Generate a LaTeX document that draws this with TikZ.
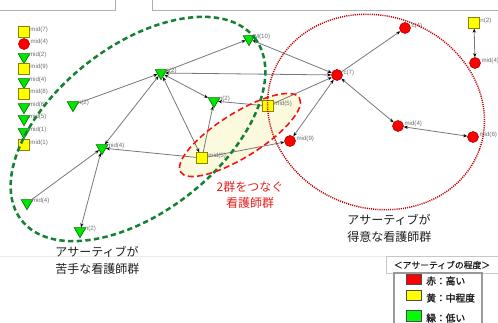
\documentclass[tikz,border=0pt]{standalone}
\usepackage{fontspec}
\newfontfamily\jpfont{Noto Sans CJK JP}
\newfontfamily\jpbold[FakeBold=1.6]{Noto Sans CJK JP}
\newfontfamily\jpsemi[FakeBold=0.8]{Noto Sans CJK JP}
\newfontfamily\lblfont{Liberation Sans}
\usetikzlibrary{shapes.geometric,arrows.meta}
\definecolor{lblgrey}{RGB}{110,110,110}
\definecolor{edgegrey}{RGB}{120,120,120}
\definecolor{sqfill}{RGB}{255,255,0}
\definecolor{sqdraw}{RGB}{140,130,0}
\definecolor{cfill}{RGB}{255,0,0}
\definecolor{cdraw}{RGB}{180,0,0}
\definecolor{tfill}{RGB}{0,230,0}
\definecolor{tdraw}{RGB}{0,120,0}
\definecolor{grdash}{RGB}{20,130,50}
\definecolor{rddot}{RGB}{190,0,0}
\definecolor{rddash}{RGB}{245,20,20}
\definecolor{cream}{RGB}{252,250,222}
\definecolor{frameg}{RGB}{175,175,175}
\definecolor{txtred}{RGB}{230,30,30}
\definecolor{txtblk}{RGB}{30,30,30}
\begin{document}
\begin{tikzpicture}[x=0.75pt,y=-0.75pt,
  lab/.style={font=\lblfont\fontsize{4.6}{4.6}\selectfont, text=lblgrey, inner sep=0.4pt, yshift=1.8pt},
  sq/.style={rectangle, draw=sqdraw, fill=sqfill, minimum size=8pt, inner sep=0pt, line width=0.5pt},
  circ/.style={circle, draw=cdraw, fill=cfill, minimum size=8.2pt, inner sep=0pt, line width=0.5pt},
  tri/.style={regular polygon, regular polygon sides=3, shape border rotate=180, draw=tdraw, fill=tfill, minimum size=10pt, inner sep=0pt, line width=0.5pt},
  conn/.style={draw=edgegrey, line width=0.6pt},
  ar/.style={conn, -{Stealth[length=3pt,width=2.4pt,color=black]}},
  bi/.style={conn, {Stealth[length=3pt,width=2.4pt,color=black]}-{Stealth[length=3pt,width=2.4pt,color=black]}},
  bigtxt/.style={font=\jpfont\fontsize{9}{12.5}\selectfont, align=left, inner sep=0pt},
  lgsq/.style={draw=black!70, minimum width=11pt, minimum height=7.5pt, inner sep=0pt, line width=0.4pt},
  lgtxt/.style={font=\jpbold\fontsize{7.3}{8}\selectfont, text=txtblk, anchor=west, inner sep=0pt}
]
\useasboundingbox (0,0) rectangle (498,323);
\fill[white] (0,0) rectangle (498,323);

% frame lines
\draw[frameg, line width=0.5pt] (0,10) -- (115,10) -- (115,0);
\draw[frameg, line width=0.5pt] (152,0) -- (152,10) -- (498,10);
\draw[black!8, line width=0.5pt] (0,256) -- (386,256);

% cream fill of bridge group
\fill[cream, rotate around={32:(240,135)}] (240,135) ellipse [x radius=70, y radius=22];

% nodes
\node[sq]   (L1)  at (24,32)  [label={[lab]0:mid(7)}] {};
\node[circ] (L2)  at (24,44)  [label={[lab]0:mid(4)}] {};
\node[tri]  (L3)  at (24,57)  [label={[lab]0:mid(2)}] {};
\node[sq]   (L4)  at (24,69)  [label={[lab]0:mid(9)}] {};
\node[tri]  (L5)  at (24,82)  [label={[lab]0:mid(4)}] {};
\node[sq]   (L6)  at (24,94)  [label={[lab]0:mid(8)}] {};
\node[tri]  (L7)  at (24,107) [label={[lab]0:mid(6)}] {};
\node[tri]  (L8)  at (24,119) [label={[lab]0:mid(5)}] {};
\node[tri]  (L9)  at (24,132) [label={[lab]0:mid(1)}] {};
\node[sq]   (L10) at (24,145) [label={[lab]0:mid(1)}] {};

\node[tri]  (na)  at (73,105)  [label={[lab]0:n(2)}] {};
\node[tri]  (c2)  at (161,73)  [label={[lab]0:c(2)}] {};
\node[tri]  (m10) at (249,39)  [label={[lab]0:M(10)}] {};
\node[tri]  (nb)  at (214,101) [label={[lab]0:n(2)}] {};
\node[sq]   (m5a) at (268,106) [label={[lab]0:mid(5)}] {};
\node[tri]  (m4b) at (102,148) [label={[lab]0:mid(4)}] {};
\node[sq]   (m5b) at (202,158) [label={[lab]0:mid(5)}] {};
\node[circ] (m9)  at (290,141) [label={[lab]0:mid(9)}] {};
\node[tri]  (m4c) at (27,203)  [label={[lab]0:mid(4)}] {};
\node[tri]  (nc)  at (80,231)  [label={[lab]0:n(2)}] {};
\node[circ] (c7)  at (337,75)  [label={[lab]0:c(7)}] {};
\node[circ] (c4)  at (405,28)  [label={[lab]0:c(4)}] {};
\node[sq]   (nd)  at (474,23)  [label={[lab]0:n(2)}] {};
\node[circ] (m4e) at (475,63)  [label={[lab]0:mid(4)}] {};
\node[circ] (m4d) at (398,126) [label={[lab]0:mid(4)}] {};
\node[circ] (m6)  at (473,137) [label={[lab]0:mid(6)}] {};

% connectors
\draw[ar] (na) -- (c2);
\draw[ar] (c2) -- (m10);
\draw[bi] (c7) -- (m10);
\draw[bi] (c2) -- (c7);
\draw[bi] (m4b) -- (c2);
\draw[bi] (c2) -- (m5b);
\draw[bi] (c2) -- (nb);
\draw[ar] (m5a) -- (nb);
\draw[ar] (m5b) -- (nb);
\draw[ar] (m5b) -- (m4b);
\draw[ar] (m5b) -- (m9);
\draw[ar] (m5a) -- (c7);
\draw[bi] (m9) -- (c7);
\draw[ar] (m4c) -- (m4b);
\draw[bi] (nc) -- (m4b);
\draw[ar] (c7) -- (c4);
\draw[bi] (c7) -- (m4d);
\draw[bi] (m4d) -- (m6);
\draw[bi] (nd) -- (m4e);

% group outlines
\draw[grdash, line width=1.9pt, dash pattern=on 4pt off 2.5pt, rotate around={38:(138,129)}] (138,129) ellipse [x radius=148, y radius=83];
\draw[rddot, line width=1.1pt, dash pattern=on 0.8pt off 0.8pt, rotate around={-20:(376,112)}] (376,112) ellipse [x radius=110, y radius=96];
\draw[rddash, line width=1.2pt, dash pattern=on 4.5pt off 2.5pt, rotate around={32:(240,135)}] (240,135) ellipse [x radius=70, y radius=22];

% texts
\node[bigtxt, text=txtred, align=center, anchor=center] (tbridge) at (250,195) {2群をつなぐ\\看護師群};
\node[bigtxt, text=txtblk, anchor=north west] (tweak) at (55,246) {アサーティブが\\苦手な看護師群};
\node[bigtxt, text=txtblk, anchor=north west] (tstrong) at (347,214) {アサーティブが\\得意な看護師群};

% legend
\draw[black!22, fill=white, line width=0.5pt] (386,256) rectangle (499,273);
\node[font=\jpsemi\fontsize{6.6}{7}\selectfont, text=txtblk, inner sep=0pt] (lgtitle) at (442,265) {＜アサーティブの程度＞};
\draw[black!40, line width=1pt] (394,324) -- (394,273) -- (482,273) -- (482,324);
\node[lgsq, fill=cfill] (lgr) at (413.5,279) {};
\node[lgsq, fill=sqfill] (lgy) at (413.5,295.5) {};
\node[lgsq, fill={rgb,255:red,0;green,255;blue,0}, minimum height=8.5pt] (lgg) at (413.5,316) {};
\node[lgtxt] (lgrt) at (426,281) {赤：高い};
\node[lgtxt] (lgyt) at (426,298) {黄：中程度};
\node[lgtxt] (lggt) at (426,318) {緑：低い};
\end{tikzpicture}
\end{document}
